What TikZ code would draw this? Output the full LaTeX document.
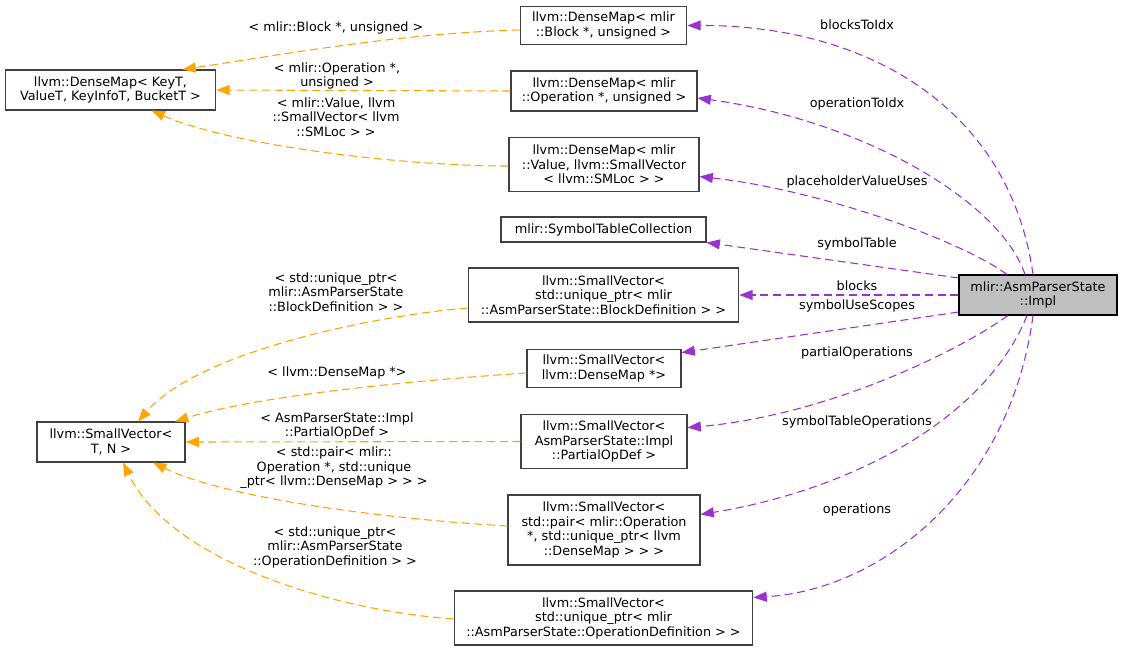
\documentclass[tikz,border=0pt]{standalone}
\usepackage{fontspec}
\setmainfont{DejaVu Sans}
\usepackage{tikz}
\usetikzlibrary{arrows.meta, calc}
\definecolor{edgeorange}{HTML}{FFA500}
\definecolor{edgepurple}{HTML}{9A32CD}
\definecolor{boxline}{HTML}{404040}
\definecolor{implgray}{HTML}{BFBFBF}

\begin{document}
\begin{tikzpicture}[x=0.75pt, y=-0.75pt,
  box/.style={rectangle, draw=boxline, line width=0.8pt, fill=white, align=center, inner sep=0pt, font=\fontsize{9.6}{10.9}\selectfont},
  focus/.style={box, draw=black, fill=implgray},
  lbl/.style={align=center, inner sep=0pt, font=\fontsize{9.6}{10.9}\selectfont},
  member/.style={-{Triangle[length=10pt, width=7.5pt]}, edgepurple, line width=0.8pt, dash pattern=on 6pt off 3.5pt},
  inherit/.style={member, edgeorange}
]
  \useasboundingbox (0,0) rectangle (1123,651);

  % Templates on the left
  \node[box, minimum width=158pt, minimum height=30pt] (dmap) at (110.5,90) {llvm::DenseMap< KeyT,\\ValueT, KeyInfoT, BucketT >};
  \node[box, minimum width=111pt, minimum height=30pt] (sv) at (111,442) {llvm::SmallVector<\\T, N >};

  % Members in the middle column
  \node[box, minimum width=125pt, minimum height=29pt] (blk) at (603.5,25.5) {llvm::DenseMap< mlir\\::Block *, unsigned >};
  \node[box, minimum width=139.5pt, minimum height=30pt] (dmop) at (604,91) {llvm::DenseMap< mlir\\::Operation *, unsigned >};
  \node[box, minimum width=142.5pt, minimum height=41pt] (dmval) at (604,164.5) {llvm::DenseMap< mlir\\::Value, llvm::SmallVector\\< llvm::SMLoc > >};
  \node[box, minimum width=153.75pt, minimum height=18.75pt] (stc) at (603.5,229.5) {mlir::SymbolTableCollection};
  \node[box, minimum width=203pt, minimum height=40.5pt] (bd) at (603.5,295) {llvm::SmallVector<\\std::unique\_ptr< mlir\\::AsmParserState::BlockDefinition > >};
  \node[box, minimum width=115.5pt, minimum height=29pt] (dmp) at (604,368.5) {llvm::SmallVector<\\llvm::DenseMap *>};
  \node[box, minimum width=124.5pt, minimum height=41pt] (pod) at (604,441.5) {llvm::SmallVector<\\AsmParserState::Impl\\::PartialOpDef >};
  \node[box, minimum width=144pt, minimum height=52.5pt] (pair) at (604,530) {llvm::SmallVector<\\std::pair< mlir::Operation\\*, std::unique\_ptr< llvm\\::DenseMap > > >};
  \node[box, minimum width=224pt, minimum height=40.5pt] (opd) at (603.5,618) {llvm::SmallVector<\\std::unique\_ptr< mlir\\::AsmParserState::OperationDefinition > >};

  % The class itself
  \node[focus, minimum width=118.5pt, minimum height=30pt] (impl) at (1038,295) {mlir::AsmParserState\\::Impl};

  % Members
  \draw[member] ($(impl.north)+(-5,0)$) .. controls (1010,110) and (870,25) .. (blk.east);
  \draw[member] ($(impl.north)+(-13,0)$) .. controls (1000,200) and (860,120) .. ($(dmop.east)+(0,7)$);
  \draw[member] ($(impl.north)+(-31,0)$) .. controls (960,240) and (820,190) .. ($(dmval.east)+(0,12)$);
  \draw[member] ($(impl.west)+(0,-17)$) -- (stc.south east);
  \draw[member] (impl.west) -- (bd.east);
  \draw[member] ($(impl.west)+(0,17)$) -- ($(dmp.north east)+(0,4)$);
  \draw[member] ($(impl.south)+(-30,0)$) .. controls (960,350) and (830,415) .. ($(pod.north east)+(0,14)$);
  \draw[member] ($(impl.south)+(-11,0)$) .. controls (985,420) and (850,490) .. ($(pair.north east)+(0,20)$);
  \draw[member] ($(impl.south)+(-5,0)$) .. controls (1010,490) and (880,590) .. ($(opd.north east)+(0,7)$);

  \node[lbl] (nblk) at (857,25) {blocksToIdx};
  \node[lbl] (nop) at (857,104) {operationToIdx};
  \node[lbl] (nval) at (857,182) {placeholderValueUses};
  \node[lbl] (nstc) at (857,244) {symbolTable};
  \node[lbl] (nbd) at (857,286) {blocks};
  \node[lbl] (ndmp) at (857,306) {symbolUseScopes};
  \node[lbl] (npod) at (857,353) {partialOperations};
  \node[lbl] (npair) at (857,422) {symbolTableOperations};
  \node[lbl] (nopd) at (857,510) {operations};

  % Template instances
  \draw[inherit] ($(blk.west)+(0,4.5)$) .. controls (400,33) and (280,55) .. ($(dmap.north)+(72,0)$);
  \draw[inherit] (dmop.west) -- (dmap.east);
  \draw[inherit] ($(dmval.west)+(0,1.5)$) .. controls (400,166) and (230,145) .. ($(dmap.south)+(41,0)$);
  \draw[inherit] ($(bd.west)+(0,13)$) .. controls (380,315) and (200,350) .. ($(sv.north)+(27,0)$);
  \draw[inherit] ($(dmp.west)+(0,4.5)$) .. controls (420,380) and (260,395) .. ($(sv.north)+(64,0)$);
  \draw[inherit] (pod.west) -- (sv.east);
  \draw[inherit] ($(pair.west)+(0,-4)$) .. controls (400,520) and (230,500) .. ($(sv.south)+(42,0)$);
  \draw[inherit] ($(opd.west)+(0,1)$) .. controls (330,610) and (170,560) .. ($(sv.south)+(12,0)$);

  \node[lbl] (tblk) at (336,28) {< mlir::Block *, unsigned >};
  \node[lbl] (top) at (337,76) {< mlir::Operation *,\\unsigned >};
  \node[lbl] (tval) at (336,117) {< mlir::Value, llvm\\::SmallVector< llvm\\::SMLoc > >};
  \node[lbl] (tbd) at (336,292) {< std::unique\_ptr<\\mlir::AsmParserState\\::BlockDefinition > >};
  \node[lbl] (tdmp) at (337,373) {< llvm::DenseMap *>};
  \node[lbl] (tpod) at (337,426) {< AsmParserState::Impl\\::PartialOpDef >};
  \node[lbl] (tpair) at (334,468) {< std::pair< mlir::\\Operation *, std::unique\\\_ptr< llvm::DenseMap > > >};
  \node[lbl] (topd) at (335,547) {< std::unique\_ptr<\\mlir::AsmParserState\\::OperationDefinition > >};
\end{tikzpicture}
\end{document}
